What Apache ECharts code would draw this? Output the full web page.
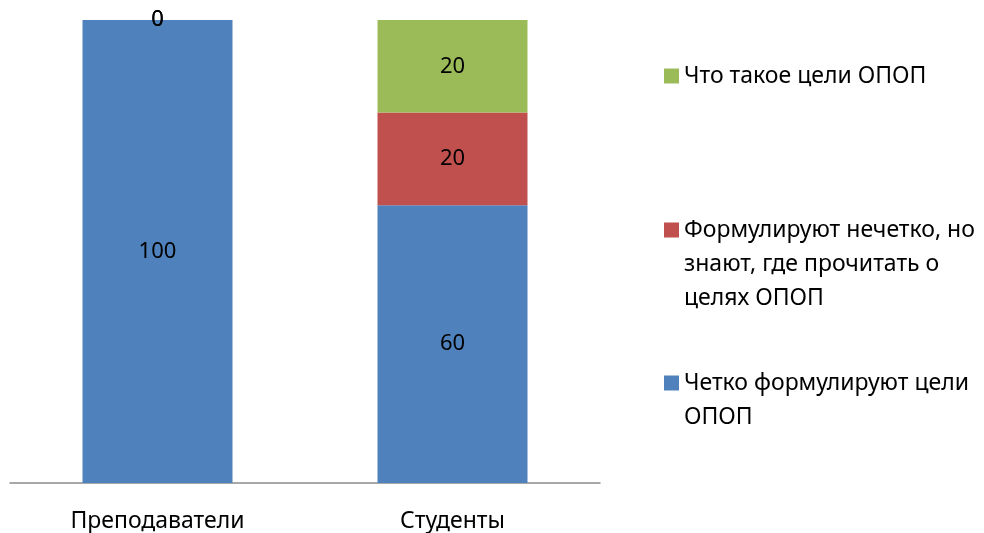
<!DOCTYPE html>
<html>
<head>
<meta charset="utf-8">
<script src="https://cdn.jsdelivr.net/npm/echarts@6/dist/echarts.min.js"></script>
<style>
  html, body { margin: 0; padding: 0; background: #fff; }
  #chart { width: 984px; height: 533px; }
</style>
</head>
<body>
<div id="chart"></div>
<script>
// данные
var categories = ['Преподаватели', 'Студенты'];
var seriesNames = [
  'Четко формулируют цели ОПОП',
  'Формулируют нечетко, но знают, где прочитать о целях ОПОП',
  'Что такое цели ОПОП'
];
var legendLines = {
  'Четко формулируют цели ОПОП': ['Четко формулируют цели', 'ОПОП'],
  'Формулируют нечетко, но знают, где прочитать о целях ОПОП': ['Формулируют нечетко, но', 'знают, где прочитать о', 'целях ОПОП'],
  'Что такое цели ОПОП': ['Что такое цели ОПОП']
};
var clearValues = [100, 60];
var vagueValues = [0, 20];
var unknownValues = [0, 20];
var colors = ['#4F81BD', '#C0504D', '#9BBB59'];

var font = '"Noto Sans", sans-serif';
var lh = 34;

function bar(name, data, color) {
  return {
    name: name,
    type: 'bar',
    stack: 'total',
    data: data,
    barWidth: 150,
    itemStyle: { color: color },
    label: {
      show: true,
      position: 'inside',
      color: '#000',
      fontFamily: font,
      fontSize: 22
    }
  };
}

// текст центрируется по значку, поэтому добавляем пустые строки сверху,
// чтобы значок стоял у первой строки
function legendFor(name, top) {
  return {
    orient: 'vertical',
    left: 664,
    top: top,
    padding: 0,
    icon: 'rect',
    itemWidth: 15,
    itemHeight: 15,
    data: [name],
    formatter: function (n) {
      var lines = legendLines[n];
      var pad = [];
      for (var i = 1; i < lines.length; i++) pad.push(' ');
      return pad.concat(lines).join('\n');
    },
    textStyle: {
      fontFamily: font,
      fontSize: 23,
      color: '#000',
      lineHeight: lh
    }
  };
}

var chart = echarts.init(document.getElementById('chart'));
chart.setOption({
  animation: false,
  backgroundColor: '#fff',
  grid: { left: 10, right: 384, top: 20, bottom: 45, containLabel: false },
  legend: [
    legendFor(seriesNames[2], 59),
    legendFor(seriesNames[1], 145),
    legendFor(seriesNames[0], 332)
  ],
  xAxis: {
    type: 'category',
    data: categories,
    axisLine: { lineStyle: { color: '#8c8c8c', width: 1.5 } },
    axisTick: { show: false },
    axisLabel: { color: '#000', fontFamily: font, fontSize: 23, margin: 27 }
  },
  yAxis: {
    type: 'value',
    min: 0,
    max: 100,
    show: false,
    splitLine: { show: false }
  },
  series: [
    bar(seriesNames[0], clearValues, colors[0]),
    bar(seriesNames[1], vagueValues, colors[1]),
    bar(seriesNames[2], unknownValues, colors[2])
  ]
});
</script>
</body>
</html>
